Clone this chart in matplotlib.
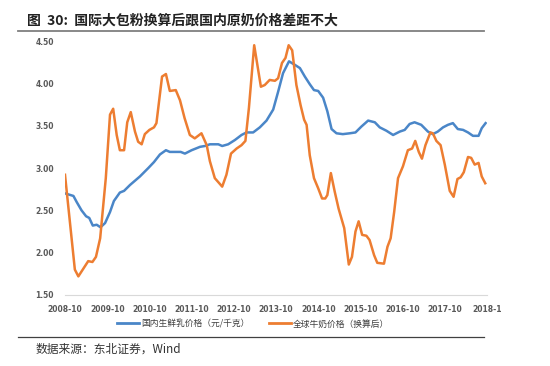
import matplotlib
matplotlib.use("Agg")
import matplotlib.pyplot as plt
from matplotlib.lines import Line2D

plt.rcParams['font.family'] = ['Noto Sans CJK SC', 'DejaVu Sans']

# month index counted from 2008-10 (0)
tick_months = [0, 12, 24, 36, 48, 60, 72, 84, 96, 108, 120]
tick_labels = ["2008-10", "2009-10", "2010-10", "2011-10", "2012-10", "2013-10",
               "2014-10", "2015-10", "2016-10", "2017-10", "2018-1"]
y_ticks = [1.50, 2.00, 2.50, 3.00, 3.50, 4.00, 4.50]

domestic_months = [0, 2.4, 3.3, 4.7, 6, 6.9, 7.9, 9, 10.1, 11.4, 12.8, 13.9, 15.6, 16.8,
                   18.5, 21.3, 23.7, 25.3, 27, 28.7, 29.8, 32.9, 34.1, 36, 38.4, 39.8,
                   41.2, 43.6, 44.7, 46.4, 48.3, 50.2, 51.6, 53.5, 55.4, 57.3, 59.2,
                   60.6, 62, 63.7, 65.3, 66.8, 68.2, 69.6, 70.8, 72, 73.4, 74.6, 75.8,
                   77.2, 79, 81, 82.6, 84.3, 86.2, 88.1, 89.5, 91.4, 93.3, 95.2, 96.6,
                   98, 99.4, 101.3, 103.2, 104.6, 106, 107.5, 108.9, 110.3, 111.7,
                   113.2, 114.6, 116, 117.6, 118.5, 119.6]
domestic_price = [2.70, 2.67, 2.60, 2.50, 2.43, 2.41, 2.32, 2.33, 2.30, 2.35, 2.48, 2.61,
                  2.71, 2.73, 2.80, 2.90, 3.00, 3.07, 3.16, 3.21, 3.19, 3.19, 3.17, 3.21,
                  3.25, 3.26, 3.28, 3.28, 3.26, 3.28, 3.33, 3.39, 3.42, 3.42, 3.48, 3.56,
                  3.69, 3.90, 4.12, 4.26, 4.22, 4.18, 4.08, 3.99, 3.92, 3.91, 3.83, 3.67,
                  3.46, 3.41, 3.40, 3.41, 3.42, 3.49, 3.56, 3.54, 3.48, 3.44, 3.39, 3.43,
                  3.45, 3.52, 3.54, 3.51, 3.43, 3.40, 3.43, 3.48, 3.51, 3.53, 3.46, 3.45,
                  3.42, 3.38, 3.38, 3.47, 3.53]

global_months = [0, 2.8, 3.8, 6.6, 7.8, 8.8, 10, 11.6, 12.8, 13.7, 14.7, 15.6, 16.8, 17.7,
                 18.7, 19.9, 20.8, 21.8, 22.7, 24, 25.3, 26, 27.6, 28.7, 29.8, 31.5, 32.7,
                 34, 35.5, 36.9, 38.8, 40.3, 41.2, 42.6, 44.7, 45.9, 47.2, 48.8, 50.2,
                 51.3, 52.3, 53.8, 55.7, 56.8, 58.2, 59.7, 60.6, 61.7, 62.7, 63.6, 64.6,
                 65.8, 67, 68, 68.7, 69.6, 70.8, 72, 73.1, 74, 74.6, 75.6, 76.7, 77.8,
                 79.4, 80.7, 81.6, 82.6, 83.5, 84.5, 85.7, 86.6, 87.9, 88.8, 90.7, 91.7,
                 92.6, 93.6, 94.7, 96.1, 97.5, 98.7, 99.6, 100.6, 101.5, 102.5, 103.9,
                 104.6, 105.6, 106.8, 108, 109.4, 110.5, 111.6, 112.5, 113.4, 114.6,
                 115.5, 116.5, 117.6, 118.5, 119.5]
global_price = [2.92, 1.80, 1.72, 1.90, 1.89, 1.95, 2.17, 2.88, 3.63, 3.70, 3.39, 3.21,
                3.21, 3.54, 3.66, 3.43, 3.31, 3.28, 3.40, 3.45, 3.48, 3.53, 4.08, 4.11,
                3.91, 3.92, 3.80, 3.59, 3.39, 3.35, 3.41, 3.27, 3.08, 2.88, 2.78, 2.92,
                3.17, 3.23, 3.27, 3.32, 3.71, 4.45, 3.96, 3.98, 4.04, 4.03, 4.06, 4.24,
                4.30, 4.45, 4.39, 3.98, 3.74, 3.57, 3.51, 3.15, 2.88, 2.76, 2.64, 2.64,
                2.68, 2.94, 2.72, 2.52, 2.29, 1.86, 1.95, 2.25, 2.37, 2.21, 2.20, 2.15,
                1.97, 1.88, 1.87, 2.07, 2.17, 2.48, 2.88, 3.02, 3.21, 3.23, 3.32, 3.19,
                3.11, 3.27, 3.42, 3.41, 3.32, 3.27, 3.04, 2.73, 2.66, 2.87, 2.89, 2.95,
                3.13, 3.12, 3.04, 3.06, 2.90, 2.82]

series_names = ["国内生鲜乳价格（元/千克）", "全球牛奶价格（换算后）"]
title = "图  30:  国际大包粉换算后跟国内原奶价格差距不大"
source = "数据来源：东北证券，Wind"

BLUE = "#4A86C8"
ORANGE = "#ED7D31"

fig = plt.figure(figsize=(5.5, 3.66), dpi=100)
ax = fig.add_axes([65/550, 1-295/366, (487-65)/550, (295-41)/366])

ax.plot(domestic_months, domestic_price, color=BLUE, lw=1.8, solid_joinstyle='round')
ax.plot(global_months, global_price, color=ORANGE, lw=1.8, solid_joinstyle='round')

ax.set_xlim(0, 120)
ax.set_ylim(1.5, 4.5)
ax.set_yticks(y_ticks)
ax.set_yticklabels([f"{v:.2f}" for v in y_ticks], fontsize=5.5, color="#595959",
                   family=['DejaVu Sans'], fontweight='bold')
ax.set_xticks(tick_months)
ax.set_xticklabels(tick_labels, fontsize=5.5, color="#595959",
                   family=['DejaVu Sans'], fontweight='bold')
ax.tick_params(axis='y', length=0, pad=8)
ax.tick_params(axis='x', length=0, pad=7)
for s in ['top', 'right', 'left']:
    ax.spines[s].set_visible(False)
ax.spines['bottom'].set_color("#D9D9D9")
ax.spines['bottom'].set_linewidth(0.8)

handles = [Line2D([0], [0], color=BLUE, lw=2), Line2D([0], [0], color=ORANGE, lw=2)]
fig.legend(handles, series_names, loc='center', bbox_to_anchor=(0.46, 1-324/366),
           ncol=2, frameon=False, fontsize=6.3, handlelength=2.6, handletextpad=0.2,
           columnspacing=2.2, labelcolor="#404040")

fig.text(27/550, 1-21/366, title, fontsize=10, fontweight='bold', color="#222222",
         va='center', ha='left')
fig.add_artist(Line2D([18/550, 484/550], [1-31/366, 1-31/366], color="#7F7F7F", lw=1.3))
fig.add_artist(Line2D([18/550, 484/550], [1-337/366, 1-337/366], color="#404040", lw=0.9))
fig.text(36/550, 1-349/366, source, fontsize=8.5, color="#333333", va='center', ha='left')

fig.savefig("out.png", dpi=100)
